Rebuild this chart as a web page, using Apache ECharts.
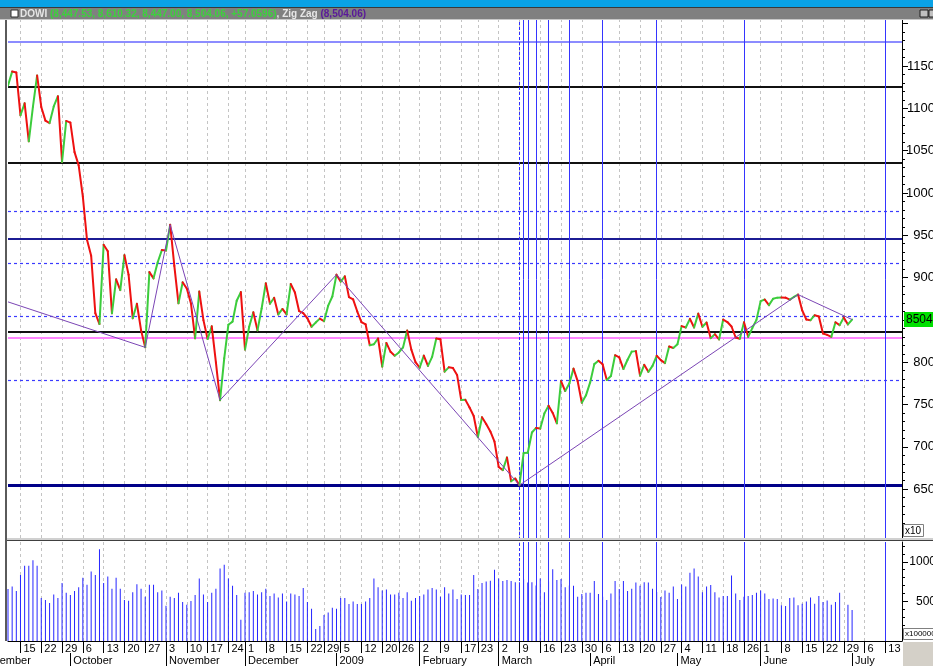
<!DOCTYPE html>
<html><head><meta charset="utf-8">
<script src="https://cdn.jsdelivr.net/npm/echarts@6/dist/echarts.min.js"></script>
<style>html,body{margin:0;padding:0;background:#fff;overflow:hidden}#c{width:933px;height:666px}</style>
</head><body><div id="c"></div>
<script>
// ---- calendar (trading days) ----
const monthKeys = ['2008-09','2008-10','2008-11','2008-12','2009-01','2009-02','2009-03','2009-04','2009-05','2009-06','2009-07'];
const monthNames = ['September','October','November','December','2009','February','March','April','May','June','July'];
const monthDays = [
 [10,11,12,15,16,17,18,19,22,23,24,25,26,29,30],
 [1,2,3,6,7,8,9,10,13,14,15,16,17,20,21,22,23,24,27,28,29,30,31],
 [3,4,5,6,7,10,11,12,13,14,17,18,19,20,21,24,25,26,28],
 [1,2,3,4,5,8,9,10,11,12,15,16,17,18,19,22,23,24,26,29,30,31],
 [2,5,6,7,8,9,12,13,14,15,16,20,21,22,23,26,27,28,29,30],
 [2,3,4,5,6,9,10,11,12,13,17,18,19,20,23,24,25,26,27],
 [2,3,4,5,6,9,10,11,12,13,16,17,18,19,20,23,24,25,26,27,30,31],
 [1,2,3,6,7,8,9,13,14,15,16,17,20,21,22,23,24,27,28,29,30],
 [1,4,5,6,7,8,11,12,13,14,15,18,19,20,21,22,26,27,28,29],
 [1,2,3,4,5,8,9,10,11,12,15,16,17,18,19,22,23,24,25,26,29,30],
 [1,2,3,6,7,8,9,10,13,14,15,16,17]
];
// ---- DOWI daily close ----
const close = [
 11268.92,11433.71,11421.99,10917.51,11059.02,10609.66,11019.69,11388.44,11015.69,10854.17,10825.17,11022.06,11143.13,10365.45,10850.66,
 10831.07,10482.85,10325.38,9955.50,9447.11,9258.10,8579.19,8451.19,9387.61,9310.99,8577.91,8979.26,8852.22,9265.43,9033.66,8519.21,8691.25,8378.95,8175.77,9065.12,8990.96,9180.69,9325.01,
 9319.83,9625.28,9139.27,8695.79,8943.81,8870.54,8693.96,8282.66,8835.25,8497.31,8273.58,8424.75,7997.28,7552.29,8046.42,8443.39,8479.47,8726.61,8829.04,
 8149.09,8419.09,8591.69,8376.24,8635.42,8934.18,8691.33,8761.42,8565.09,8629.68,8564.53,8924.14,8824.34,8604.99,8579.11,8519.69,8419.49,8468.48,8515.55,8483.93,8668.39,8776.39,
 9034.69,8952.89,9015.10,8769.70,8742.46,8599.18,8473.97,8448.56,8200.14,8212.49,8281.22,7949.09,8228.10,8122.80,8077.56,8116.03,8174.73,8375.45,8149.01,8000.86,
 7936.83,8078.36,7956.66,8063.07,8280.59,8270.87,7888.88,7939.53,7932.76,7850.41,7552.60,7555.63,7465.95,7365.67,7114.78,7350.94,7270.89,7182.08,7062.93,
 6763.29,6726.02,6875.84,6594.44,6626.94,6547.05,6926.49,6930.40,7170.06,7223.98,7216.97,7395.70,7486.58,7400.80,7278.38,7775.86,7659.97,7749.81,7924.56,7776.18,7522.02,7608.92,
 7761.60,7978.08,8017.59,7975.85,7789.56,7837.11,8083.38,8057.81,7920.18,8029.62,8125.43,8131.33,7841.73,7969.56,7886.57,7957.06,8076.29,8025.00,7989.82,8185.73,8168.12,
 8212.41,8426.74,8410.65,8512.28,8409.85,8574.65,8418.77,8469.11,8284.89,8331.32,8268.64,8504.08,8474.85,8422.04,8292.13,8277.32,8473.49,8300.02,8403.80,8500.33,
 8721.44,8740.87,8675.24,8750.24,8763.13,8764.49,8763.06,8739.02,8770.92,8799.26,8612.13,8504.67,8497.18,8555.60,8539.73,8339.01,8322.91,8299.86,8472.40,8438.39,8529.38,8447.00,
 8504.06
];
// ---- volume (x100000) ----
const volume = [
 655,689,630,832,949,949,1020,949,542,517,479,588,542,731,609,580,630,680,798,710,878,832,1159,731,815,659,798,659,517,508,
 617,718,659,559,710,710,617,638,445,559,542,609,491,458,504,580,790,588,491,609,659,916,962,790,697,580,269,609,617,630,
 588,617,659,567,601,550,601,500,601,588,567,668,491,407,151,189,328,361,420,407,542,542,466,500,466,466,500,542,790,680,
 638,650,588,588,609,542,617,508,542,567,588,650,668,650,559,680,601,650,529,588,580,580,832,655,731,752,760,899,790,756,
 769,756,743,743,780,740,743,700,790,617,750,906,769,782,680,700,697,559,592,609,609,756,592,560,517,601,756,655,756,630,
 659,739,697,743,739,659,620,555,638,609,689,529,714,689,861,916,815,617,689,706,617,550,567,567,828,601,517,560,567,580,
 609,638,601,529,538,529,450,441,542,550,450,471,500,550,471,567,491,512,458,491,609,null,458,391
];
// ---- Zig Zag pivots ----
const zzIdx = [0, 33, 39, 51, 79, 123, 190, 203];
const zzVal = [8713, 8175.77, 9625.28, 7552.29, 9034.69, 6547.05, 8799.26, 8504.06];
// ---- horizontal levels ----
const topLevel = 11782;
const blackLevels = [11258, 10355, 8356];
const navyLevel = 9458;
const fibLevels = [7782.5, 8546.8, 9164.5, 9782.3];
const pinkLevel = 8288;
const lowLevel = 6547.05;
// ---- Fibonacci time lines (trading-day index) ----
const fibTimeDashed = [123];
const fibTime = [124, 125, 127, 130, 135, 143, 156, 177, 211];
// ---- axis tick values ----
const priceMinor = []; for (let v = 6000; v <= 12000; v += 100) priceMinor.push(v);
const priceMajor = [6000,6500,7000,7500,8000,8500,9000,9500,10000,10500,11000,11500,12000];
const priceLabels = [6500,7000,7500,8000,9000,9500,10000,10500,11000,11500];
const volMinor = [100,200,300,400,500,600,700,800,900,1000,1100,1200];
const volMajor = [500,1000];

// build categories
const cats = [], catMonth = [];
monthKeys.forEach((k, m) => monthDays[m].forEach(d => { cats.push(k + '-' + String(d).padStart(2,'0')); catMonth.push(m); }));
const dates = cats.map(s => new Date(s + 'T00:00:00Z'));
const weekStart = dates.map((d,i) => i > 0 && ((d - dates[i-1]) / 864e5 >= 7 || d.getUTCDay() <= dates[i-1].getUTCDay()));
const monthStart = dates.map((d,i) => i > 0 && d.getUTCMonth() !== dates[i-1].getUTCMonth());
const wk = (i) => weekStart[i];
const ms = (i) => monthStart[i];

const segData = [];
for (let i = 0; i < close.length - 1; i++) segData.push([i, close[i], close[i+1]]);
const zz = cats.map(() => null);
zzIdx.forEach((ix, k) => { zz[ix] = zzVal[k]; });
const empty = cats.map(() => null);
const lastClose = close[close.length - 1];

const UP = '#3ccc3c', DOWN = '#ee1111';
const FONT = 'Liberation Sans, Arial, sans-serif';

const hLines = [];
hLines.push({yAxis: topLevel, lineStyle: {color: '#8c8cff', width: 2, type: 'solid'}});
blackLevels.forEach(v => hLines.push({yAxis: v, lineStyle: {color: '#111', width: 2, type: 'solid'}}));
hLines.push({yAxis: navyLevel, lineStyle: {color: '#1c1c94', width: 2, type: 'solid'}});
fibLevels.forEach(v => hLines.push({yAxis: v, lineStyle: {color: '#3a3aff', width: 1.2, type: [3,3]}}));
hLines.push({yAxis: pinkLevel, lineStyle: {color: '#ff86ff', width: 2, type: 'solid'}});
hLines.push({yAxis: lowLevel, lineStyle: {color: '#000088', width: 3, type: 'solid'}});
const vLines = [];
fibTimeDashed.forEach(i => vLines.push({xAxis: cats[i], lineStyle: {color: '#3030ff', width: 1, type: [3,2]}}));
fibTime.forEach(i => vLines.push({xAxis: cats[i], lineStyle: {color: '#3535ff', width: 1, type: 'solid'}}));

const chart = echarts.init(document.getElementById('c'), null, {renderer: 'canvas', width: 933, height: 666});
const gridLine = {show: true, interval: (i) => wk(i), lineStyle: {color: '#c4c4c4', width: 1, type: [3,3]}};
chart.setOption({
  animation: false,
  backgroundColor: '#fff',
  textStyle: {fontFamily: FONT},
  grid: [
    {left: 8, right: 31, top: 19, height: 521, outerBoundsMode: 'none', containLabel: false},
    {left: 8, right: 31, top: 542, height: 99, outerBoundsMode: 'none', containLabel: false},
    {left: 8, right: 31, top: 653, height: 13, outerBoundsMode: 'none', containLabel: false}
  ],
  xAxis: [
    {type: 'category', gridIndex: 0, data: cats, boundaryGap: false, position: 'bottom',
     axisLine: {show: false}, axisTick: {show: false}, axisLabel: {show: false}, splitLine: gridLine},
    {type: 'category', gridIndex: 1, data: cats, boundaryGap: false, position: 'bottom',
     axisLine: {show: true, lineStyle: {color: '#000', width: 1}},
     axisTick: {show: true, interval: (i) => wk(i), length: 12, lineStyle: {color: '#000', width: 1}},
     axisLabel: {show: true, interval: (i) => wk(i), formatter: (v, i) => weekStart[i] ? String(dates[i].getUTCDate()) : '',
       align: 'left', padding: [0,0,0,3], margin: 2, fontSize: 11, color: '#000', fontFamily: FONT, hideOverlap: false},
     splitLine: gridLine},
    {type: 'category', gridIndex: 2, data: cats, boundaryGap: false, position: 'top',
     axisLine: {show: false},
     axisTick: {show: false},
     axisLabel: {show: true, inside: true, interval: (i) => ms(i), formatter: (v, i) => monthStart[i] ? monthNames[catMonth[i]] : '',
       align: 'left', verticalAlign: 'top', padding: [0,0,0,3], margin: 2, fontSize: 11, color: '#000', fontFamily: FONT, hideOverlap: false},
     splitLine: {show: true, interval: (i) => ms(i), lineStyle: {color: '#000', width: 1, type: 'solid'}}}
  ],
  yAxis: [
    {type: 'value', gridIndex: 0, position: 'right', min: 5900, max: 12055,
     axisLine: {show: true, lineStyle: {color: '#000', width: 1}},
     axisTick: {show: true, customValues: priceMinor, length: 3, lineStyle: {color: '#000'}},
     axisLabel: {show: true, customValues: priceLabels, formatter: (v) => String(v / 10), align: 'right', margin: 33,
       fontSize: 13, color: '#000', fontFamily: FONT},
     splitLine: {show: false}},
    {type: 'value', gridIndex: 0, position: 'right', min: 5900, max: 12055,
     axisLine: {show: false}, axisLabel: {show: false}, splitLine: {show: false},
     axisTick: {show: true, customValues: priceMajor, length: 6, lineStyle: {color: '#000'}}},
    {type: 'value', gridIndex: 1, position: 'right', min: 0, max: 1250,
     axisLine: {show: true, lineStyle: {color: '#000', width: 1}},
     axisTick: {show: true, customValues: volMinor, length: 3, lineStyle: {color: '#000'}},
     axisLabel: {show: true, customValues: volMajor, formatter: (v) => String(v), align: 'right', margin: 34,
       fontSize: 12, color: '#000', fontFamily: FONT},
     splitLine: {show: false}},
    {type: 'value', gridIndex: 1, position: 'right', min: 0, max: 1250,
     axisLine: {show: false}, axisLabel: {show: false}, splitLine: {show: false},
     axisTick: {show: true, customValues: volMajor, length: 6, lineStyle: {color: '#000'}}},
    {type: 'value', gridIndex: 2, show: false, min: 0, max: 1}
  ],
  series: [
    {name: 'levels', type: 'line', xAxisIndex: 0, yAxisIndex: 0, data: empty, showSymbol: false, silent: true, z: 1,
     markLine: {silent: true, symbol: 'none', z: 1, label: {show: false}, emphasis: {disabled: true}, data: hLines.concat(vLines)}},
    {name: 'DOWI', type: 'custom', xAxisIndex: 0, yAxisIndex: 0, data: segData, encode: {x: 0, y: [1, 2]}, z: 3, clip: true, silent: true,
     renderItem: (params, api) => {
       const i = api.value(0), a = api.value(1), b = api.value(2);
       const p0 = api.coord([i, a]), p1 = api.coord([i + 1, b]);
       return {type: 'line', shape: {x1: p0[0], y1: p0[1], x2: p1[0], y2: p1[1]},
               style: {stroke: b >= a ? UP : DOWN, lineWidth: 2, lineCap: 'round'}};
     }},
    {name: 'Zig Zag', type: 'line', xAxisIndex: 0, yAxisIndex: 0, data: zz, connectNulls: true, showSymbol: false, z: 4, silent: true,
     lineStyle: {color: '#7b45b5', width: 1}},
    {name: 'last', type: 'line', xAxisIndex: 0, yAxisIndex: 0, data: empty, showSymbol: false, silent: true, z: 8,
     markLine: {silent: true, symbol: 'none', z: 8, data: [
       {yAxis: lastClose, lineStyle: {color: 'rgba(0,0,0,0)', width: 1},
        label: {show: true, position: 'end', distance: 2, formatter: lastClose.toFixed(2),
                backgroundColor: '#00e000', color: '#000', fontSize: 12, fontFamily: FONT, padding: [2, 2, 1, 2]}}]}},
    {name: 'Volume', type: 'bar', xAxisIndex: 1, yAxisIndex: 2, data: volume, barWidth: 1, z: 2, silent: true,
     itemStyle: {color: '#2525ff'},
     markLine: {silent: true, symbol: 'none', z: 5, label: {show: false}, data: vLines}},
    {name: 'months', type: 'line', xAxisIndex: 2, yAxisIndex: 4, data: empty, showSymbol: false, silent: true}
  ],
  graphic: [
    {type: 'rect', shape: {x: 0, y: 0, width: 933, height: 7}, style: {fill: '#0aa2e6'}, z: 100},
    {type: 'rect', shape: {x: 0, y: 7, width: 933, height: 1}, style: {fill: '#3a3a3a'}, z: 100},
    {type: 'rect', shape: {x: 0, y: 8, width: 933, height: 11}, style: {fill: '#808080'}, z: 100},
    {type: 'rect', shape: {x: 0, y: 19, width: 933, height: 1}, style: {fill: '#c8c8c8'}, z: 100},
    {type: 'rect', shape: {x: 11, y: 10, width: 7, height: 7}, style: {fill: '#fff', stroke: '#303030', lineWidth: 1}, z: 101},
    {type: 'text', x: 20, y: 14, z: 101, style: {
      text: '{a|DOWI }{g|(8,447.53, 8,610.32, 8,447.00, 8,504.06, +57.0596)}{a|, Zig Zag }{p|(8,504.06)}',
      verticalAlign: 'middle', font: 'bold 10px ' + FONT,
      rich: {a: {fill: '#e6e6e6', font: 'bold 10px ' + FONT}, g: {fill: '#3cd23c', font: 'bold 10px ' + FONT}, p: {fill: '#5a189a', font: 'bold 10px ' + FONT}}}},
    {type: 'rect', shape: {x: 920, y: 10, width: 8, height: 7}, style: {fill: '#c0c0c0', stroke: '#202020', lineWidth: 1}, z: 101},
    {type: 'rect', shape: {x: 929, y: 10, width: 8, height: 7}, style: {fill: '#c0c0c0', stroke: '#202020', lineWidth: 1}, z: 101},
    {type: 'rect', shape: {x: 5, y: 20, width: 2, height: 621}, style: {fill: '#5a5a5a'}, z: 100},
    {type: 'rect', shape: {x: 6, y: 538, width: 927, height: 2}, style: {fill: '#d0d0d0'}, z: 90},
    {type: 'rect', shape: {x: 6, y: 540, width: 927, height: 1}, style: {fill: '#404040'}, z: 90},
    {type: 'rect', shape: {x: 903.5, y: 524.5, width: 20, height: 12}, style: {fill: '#fff', stroke: '#808080', lineWidth: 1}, z: 100},
    {type: 'text', x: 905, y: 531, z: 101, style: {text: 'x10', font: '10px ' + FONT, fill: '#000', verticalAlign: 'middle'}},
    {type: 'rect', shape: {x: 903.5, y: 628.5, width: 40, height: 11}, style: {fill: '#fff', stroke: '#808080', lineWidth: 1}, z: 100},
    {type: 'text', x: 905, y: 634, z: 101, style: {text: 'x100000', font: '8px ' + FONT, fill: '#000', verticalAlign: 'middle'}},
    {type: 'rect', shape: {x: 903, y: 642, width: 30, height: 24}, style: {fill: '#d4d0c8'}, z: 100},
    {type: 'text', x: -23, y: 655, z: 101, style: {text: 'September', font: '11px ' + FONT, fill: '#000', verticalAlign: 'top'}}
  ]
});
</script>
</body></html>
